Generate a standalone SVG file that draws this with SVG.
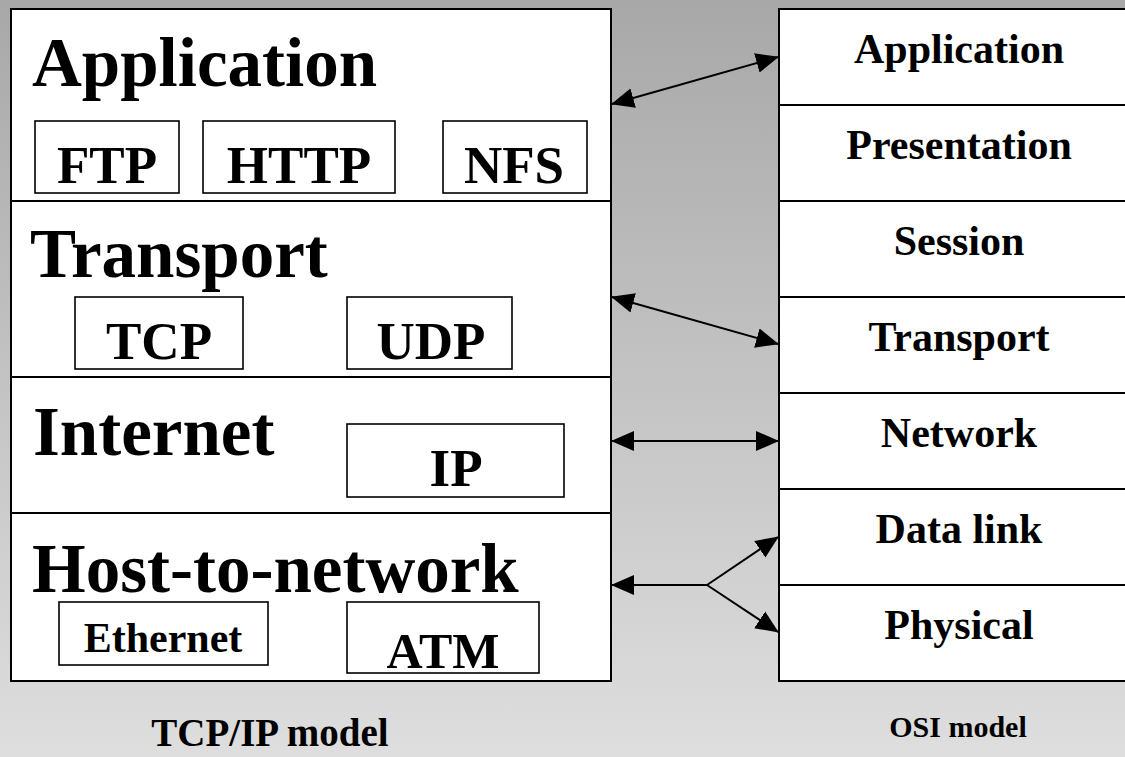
<svg xmlns="http://www.w3.org/2000/svg" width="1125" height="757" viewBox="0 0 1125 757">
<defs>
<linearGradient id="bg" x1="0" y1="0" x2="0" y2="1">
<stop offset="0" stop-color="#a8a8a8"/>
<stop offset="1" stop-color="#dedede"/>
</linearGradient>
<marker id="ah" markerUnits="userSpaceOnUse" markerWidth="24" markerHeight="22" viewBox="0 0 24 22" refX="22" refY="11" orient="auto-start-reverse">
<path d="M0,1 L23,11 L0,21 Z" fill="#000"/>
</marker>
<style>
.box{fill:#fff;stroke:#000;stroke-width:2}
.sub{fill:#fff;stroke:#000;stroke-width:1.6}
.sep{stroke:#000;stroke-width:2}
.t{font-family:"Liberation Serif","Times New Roman",serif;font-weight:bold;fill:#000}
.big{font-size:69px}
.mid{font-size:53px}
.osi{font-size:42px}
.c{text-anchor:middle}
.con{stroke:#000;stroke-width:2;fill:none}
</style>
</defs>
<rect width="1125" height="757" fill="url(#bg)"/>

<g id="tcpip-model">
<rect class="box" x="11" y="9" width="600" height="672"/>
<line class="sep" x1="11" y1="201" x2="611" y2="201"/>
<line class="sep" x1="11" y1="377" x2="611" y2="377"/>
<line class="sep" x1="11" y1="513" x2="611" y2="513"/>
</g>

<g id="tcp-application">
<text class="t big" x="32" y="86">Application</text>
</g>
<g id="ftp"><rect class="sub" x="35" y="121" width="144" height="72"/><text class="t mid c" x="107" y="183">FTP</text></g>
<g id="http"><rect class="sub" x="203" y="121" width="192" height="72"/><text class="t mid c" x="299" y="183">HTTP</text></g>
<g id="nfs"><rect class="sub" x="443" y="121" width="144" height="72"/><text class="t mid c" x="514" y="183">NFS</text></g>

<g id="tcp-transport">
<text class="t big" x="30" y="277">Transport</text>
</g>
<g id="tcp"><rect class="sub" x="75" y="297" width="168" height="72"/><text class="t mid c" x="159" y="359">TCP</text></g>
<g id="udp"><rect class="sub" x="347" y="297" width="165" height="72"/><text class="t mid c" x="431" y="359">UDP</text></g>

<g id="tcp-internet">
<text class="t big" x="33" y="455">Internet</text>
</g>
<g id="ip"><rect class="sub" x="347" y="424" width="217" height="73"/><text class="t mid c" x="456" y="486">IP</text></g>

<g id="tcp-host">
<text class="t big" x="32" y="592">Host-to-network</text>
</g>
<g id="ethernet"><rect class="sub" x="59" y="602" width="209" height="63"/><text class="t c" style="font-size:42px" x="163" y="652">Ethernet</text></g>
<g id="atm"><rect class="sub" x="347" y="602" width="192" height="71"/><text class="t c" style="font-size:50px" x="443" y="668">ATM</text></g>

<g id="osi-model">
<rect class="box" x="779" y="9" width="400" height="672"/>
<line class="sep" x1="779" y1="105" x2="1125" y2="105"/>
<line class="sep" x1="779" y1="201" x2="1125" y2="201"/>
<line class="sep" x1="779" y1="297" x2="1125" y2="297"/>
<line class="sep" x1="779" y1="393" x2="1125" y2="393"/>
<line class="sep" x1="779" y1="489" x2="1125" y2="489"/>
<line class="sep" x1="779" y1="585" x2="1125" y2="585"/>
</g>
<g id="osi-application"><text class="t osi c" x="959" y="63">Application</text></g>
<g id="osi-presentation"><text class="t osi c" x="959" y="159">Presentation</text></g>
<g id="osi-session"><text class="t osi c" x="959" y="255">Session</text></g>
<g id="osi-transport"><text class="t osi c" x="959" y="351">Transport</text></g>
<g id="osi-network"><text class="t osi c" x="959" y="447">Network</text></g>
<g id="osi-datalink"><text class="t osi c" x="959" y="543">Data link</text></g>
<g id="osi-physical"><text class="t osi c" x="959" y="639">Physical</text></g>

<g id="connectors">
<line class="con" x1="612" y1="104" x2="778" y2="57" marker-start="url(#ah)" marker-end="url(#ah)"/>
<line class="con" x1="612" y1="297" x2="778" y2="344" marker-start="url(#ah)" marker-end="url(#ah)"/>
<line class="con" x1="612" y1="441" x2="778" y2="441" marker-start="url(#ah)" marker-end="url(#ah)"/>
<line class="con" x1="707" y1="585" x2="612" y2="585" marker-end="url(#ah)"/>
<line class="con" x1="707" y1="585" x2="778" y2="537" marker-end="url(#ah)"/>
<line class="con" x1="707" y1="585" x2="778" y2="632" marker-end="url(#ah)"/>
</g>

<g id="captions">
<text class="t c" style="font-size:39px" x="270" y="746">TCP/IP model</text>
<text class="t c" style="font-size:30px" x="958" y="737">OSI model</text>
</g>
</svg>
